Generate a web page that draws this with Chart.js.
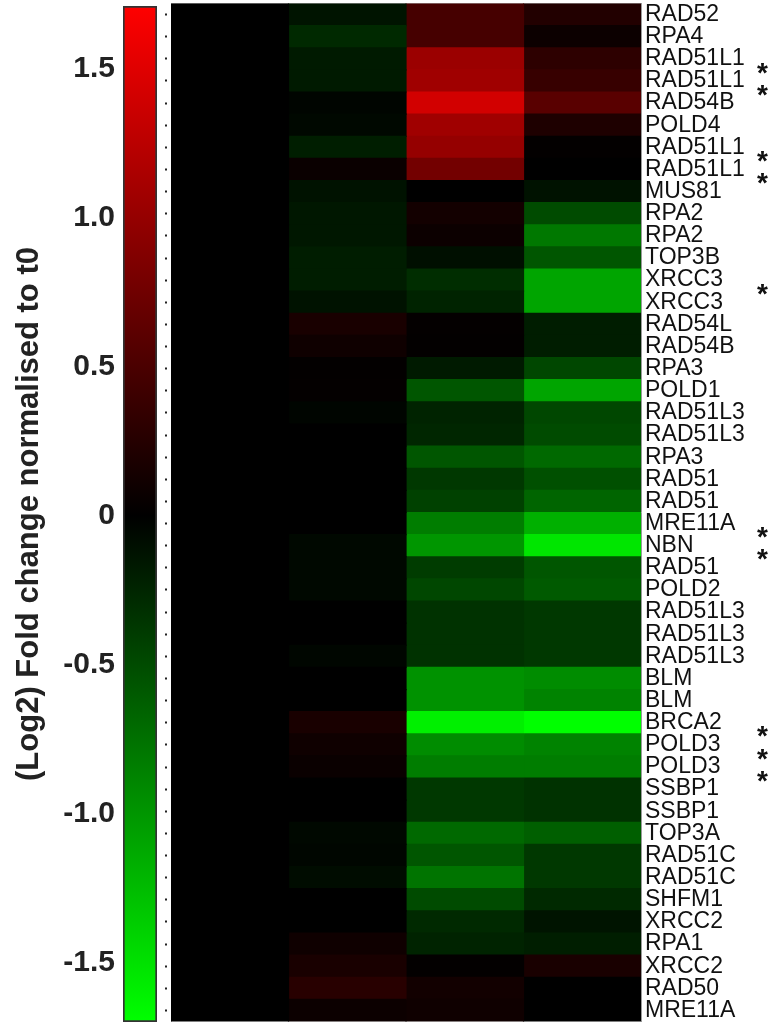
<!DOCTYPE html>
<html>
<head>
<meta charset="utf-8">
<script src="https://cdn.jsdelivr.net/npm/chart.js@4/dist/chart.umd.min.js"></script>
<style>
  html, body { margin: 0; padding: 0; background: #fff; width: 772px; height: 1026px; overflow: hidden; }
  #scaleBox { position: absolute; left: 0; top: 0; width: 160px; height: 1026px; }
  #heatBox { position: absolute; left: 160px; top: 0; width: 612px; height: 1026px; }
</style>
</head>
<body>
<div id="scaleBox"><canvas id="scaleChart" width="160" height="1026"></canvas></div>
<div id="heatBox"><canvas id="heatChart" width="612" height="1026"></canvas></div>
<script>
// Genes (rows, top to bottom)
const genes = ['RAD52','RPA4','RAD51L1','RAD51L1','RAD54B','POLD4','RAD51L1','RAD51L1','MUS81','RPA2',
  'RPA2','TOP3B','XRCC3','XRCC3','RAD54L','RAD54B','RPA3','POLD1','RAD51L3','RAD51L3',
  'RPA3','RAD51','RAD51','MRE11A','NBN','RAD51','POLD2','RAD51L3','RAD51L3','RAD51L3',
  'BLM','BLM','BRCA2','POLD3','POLD3','SSBP1','SSBP1','TOP3A','RAD51C','RAD51C',
  'SHFM1','XRCC2','RPA1','XRCC2','RAD50','MRE11A'];

// Significance markers per row
const stars = ['','','*','*','','','*','*','','',
  '','','*','','','','','','','',
  '','','','*','*','','','','','',
  '','','*','*','*','','','','','',
  '','','','','',''];

// Log2 fold change per time point (columns, left to right)
const t0 = [0,0,0,0,0,0,0,0,0,0, 0,0,0,0,0,0,0,0,0,0, 0,0,0,0,0,0,0,0,0,0,
  0,0,0,0,0,0,0,0,0,0, 0,0,0,0,0,0];
const t1 = [-0.13,-0.27,-0.17,-0.17,-0.03,-0.05,-0.2,0.07,-0.12,-0.15,
  -0.15,-0.19,-0.19,-0.12,0.17,0.1,0.02,0.03,-0.03,0,
  0,0,0,0,-0.05,-0.05,-0.05,0,0,-0.04,
  0,0,0.17,0.1,0.07,0,0,-0.05,-0.04,-0.08,
  0,0,0.1,0.17,0.27,0.08];
const t2 = [0.47,0.47,1.04,1.07,1.41,1.07,1.0,0.77,0,0.13,
  0.08,-0.1,-0.3,-0.23,0.03,0.02,-0.17,-0.57,-0.23,-0.25,
  -0.57,-0.37,-0.43,-0.83,-1.0,-0.4,-0.47,-0.33,-0.33,-0.33,
  -0.97,-0.97,-1.6,-0.93,-0.83,-0.37,-0.37,-0.7,-0.57,-0.77,
  -0.5,-0.27,-0.23,0.02,0.12,0.1];
const t3 = [0.23,0.08,0.3,0.37,0.6,0.2,0.02,0,-0.12,-0.5,
  -0.8,-0.57,-1.1,-1.1,-0.19,-0.19,-0.47,-1.1,-0.47,-0.5,
  -0.7,-0.53,-0.67,-1.17,-1.53,-0.57,-0.6,-0.37,-0.37,-0.37,
  -0.93,-0.87,-1.7,-0.87,-0.83,-0.33,-0.33,-0.63,-0.37,-0.37,
  -0.27,-0.13,-0.2,0.17,0,0];
const columns = [t0, t1, t2, t3];

// Colour scale range and its tick values
const colourMin = -1.7;
const colourMax = 1.71;
const scaleTicks = [-1.5, -1.0, -0.5, 0, 0.5, 1.0, 1.5];

Chart.defaults.font.family = "'Liberation Sans', Arial, Helvetica, sans-serif";

// red / black / green colour map
function colourFor(v) {
  if (v >= 0) {
    const r = Math.round(255 * Math.min(v / colourMax, 1));
    return `rgb(${r},0,0)`;
  }
  const g = Math.round(255 * Math.min(-v / -colourMin, 1));
  return `rgb(0,${g},0)`;
}

// fix an axis' thickness and drop the label overhang padding so the plot
// area is set by the layout padding alone
function fixAxis(size) {
  return s => {
    if (s.isHorizontal()) s.height = size; else s.width = size;
    s.paddingTop = 0; s.paddingBottom = 0; s.paddingLeft = 0; s.paddingRight = 0;
  };
}

// ---------- colour bar ----------
new Chart(document.getElementById('scaleChart'), {
  type: 'bar',
  data: {
    labels: ['range'],
    datasets: [{
      data: [[colourMin, colourMax]],
      backgroundColor(ctx) {
        const chart = ctx.chart;
        if (!chart.chartArea || !chart.scales.y) return '#000';
        const ys = chart.scales.y;
        const g = chart.ctx.createLinearGradient(0, ys.getPixelForValue(colourMin), 0, ys.getPixelForValue(colourMax));
        g.addColorStop(0, colourFor(colourMin));
        g.addColorStop((0 - colourMin) / (colourMax - colourMin), '#000');
        g.addColorStop(1, colourFor(colourMax));
        return g;
      },
      borderColor: '#333',
      borderWidth: 2,
      borderSkipped: false,
      barPercentage: 1,
      categoryPercentage: 1
    }]
  },
  options: {
    responsive: false,
    animation: false,
    layout: { autoPadding: false, padding: { top: 6, bottom: 4, left: 0, right: 3 } },
    plugins: { legend: { display: false }, tooltip: { enabled: false } },
    scales: {
      x: { display: false },
      y: {
        min: colourMin,
        max: colourMax,
        position: 'left',
        z: 1,
        afterBuildTicks(s) { s.ticks = scaleTicks.map(v => ({ value: v })); },
        ticks: {
          callback: v => (v === 0 ? '0' : v.toFixed(1)),
          font: { size: 30, weight: 'bold' },
          color: '#222',
          padding: 8
        },
        grid: { drawTicks: false, color: '#222', lineWidth: 2 },
        border: { display: false, dash: [10, 13] },
        title: {
          display: true,
          text: '(Log2) Fold change normalised to t0',
          font: { size: 31, weight: 'bold' },
          color: '#222',
          padding: { top: 11, bottom: 0 }
        },
        afterFit: fixAxis(123)
      }
    }
  }
});

// ---------- heat map ----------
const datasets = columns.map((vals, c) => ({
  data: vals.map(() => [c, c + 1]),
  backgroundColor: ctx => colourFor(vals[ctx.dataIndex]),
  borderWidth: 0,
  inflateAmount: 0.6,
  barPercentage: 1,
  categoryPercentage: 1,
  grouped: false
}));

new Chart(document.getElementById('heatChart'), {
  type: 'bar',
  data: { labels: genes, datasets },
  options: {
    indexAxis: 'y',
    responsive: false,
    animation: false,
    layout: { autoPadding: false, padding: { top: 3.5, bottom: 4.5, left: 0, right: 0 } },
    plugins: { legend: { display: false }, tooltip: { enabled: false } },
    scales: {
      x: {
        type: 'linear',
        min: 0,
        max: columns.length,
        position: 'top',
        ticks: { display: false },
        grid: { display: false, drawTicks: false },
        border: { display: true, color: '#b5b5b5', width: 1 },
        afterFit: fixAxis(0)
      },
      y: {
        type: 'category',
        position: 'left',
        offset: true,
        ticks: { display: false, autoSkip: false },
        grid: {
          display: true, offset: false, drawOnChartArea: false, drawTicks: true,
          tickLength: 6, tickColor: '#222', tickWidth: 2, tickBorderDash: [2, 10]
        },
        border: { display: true, color: '#b5b5b5', width: 1 },
        afterFit: fixAxis(11)
      },
      geneAxis: {
        type: 'category',
        labels: genes,
        position: 'right',
        offset: true,
        weight: 0,
        grid: { display: false, drawTicks: false },
        border: { display: true, color: '#9a9a9a', width: 1 },
        ticks: { autoSkip: false, padding: 4, color: '#111', font: { size: 23 } },
        afterFit: fixAxis(114)
      },
      starAxis: {
        type: 'category',
        labels: stars,
        position: 'right',
        offset: true,
        weight: 1,
        grid: { display: false, drawTicks: false },
        border: { display: false },
        ticks: { autoSkip: false, padding: 2, labelOffset: 15, color: '#111', font: { size: 28, weight: 'bold' } },
        afterFit: fixAxis(17)
      }
    }
  }
});
</script>
</body>
</html>
